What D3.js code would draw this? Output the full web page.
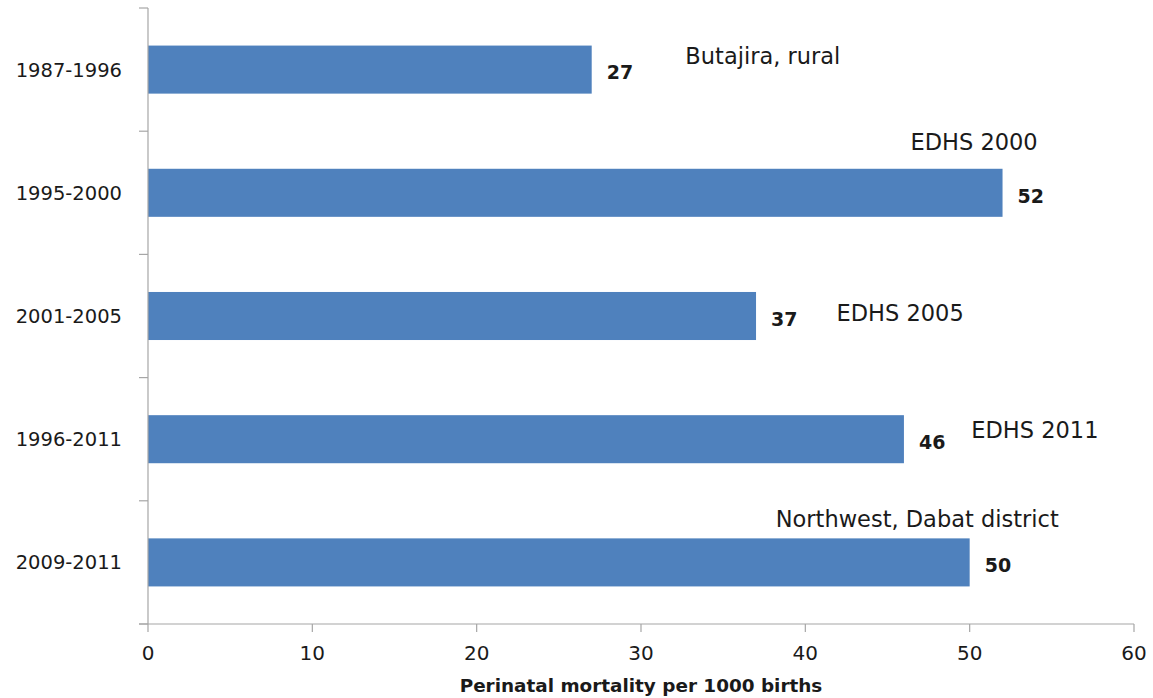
<!DOCTYPE html>
<html>
<head>
<meta charset="utf-8">
<script src="https://cdn.jsdelivr.net/npm/d3@7"></script>
<style>
  body { margin: 0; background: #fff; }
  text { font-family: "DejaVu Sans", sans-serif; fill: #1a1a1a; }
</style>
</head>
<body>
<svg id="chart" width="1153" height="698"></svg>
<script>
(function(){
'use strict';

    // data
    var periods = ['1987-1996', '1995-2000', '2001-2005', '1996-2011', '2009-2011'];
    var mortality = [27, 52, 37, 46, 50];
    var sources = ['Butajira, rural', 'EDHS 2000', 'EDHS 2005', 'EDHS 2011', 'Northwest, Dabat district'];
    var xTicks = [0, 10, 20, 30, 40, 50, 60];

    // where the source notes sit (x in axis units, y offset from bar centre in px)
    var noteX = [32.7, 46.4, 41.9, 50.1, 38.2];
    var noteDy = [-14, -51, -3, -9, -44];

    var margin = {left: 148, right: 19, top: 8, bottom: 74},
        width = 1153 - margin.left - margin.right,
        height = 698 - margin.top - margin.bottom;

    var svg = d3.select('#chart');
    var g = svg.append('g').attr('transform', 'translate(' + margin.left + ',' + margin.top + ')');

    var x = d3.scaleLinear().domain([0, 60]).range([0, width]);
    var y = d3.scaleBand().domain(periods).range([0, height]).paddingInner(0.61).paddingOuter(0.305);

    var axisColor = '#a6a6a6';

    // bars
    g.selectAll('rect.bar').data(periods).enter().append('rect')
        .attr('class', 'bar')
        .attr('x', 0)
        .attr('y', function(d) { return y(d); })
        .attr('width', function(d, i) { return x(mortality[i]); })
        .attr('height', y.bandwidth())
        .attr('fill', '#4f81bd');

    // y axis
    g.append('line')
        .attr('x1', 0).attr('x2', 0).attr('y1', 0).attr('y2', height)
        .attr('stroke', axisColor).attr('stroke-width', 1.2);
    d3.range(periods.length + 1).forEach(function(i) {
        var yy = i * y.step();
        g.append('line')
            .attr('x1', -9).attr('x2', 0).attr('y1', yy).attr('y2', yy)
            .attr('stroke', axisColor).attr('stroke-width', 1.2);
    });
    g.selectAll('text.ylab').data(periods).enter().append('text')
        .attr('class', 'ylab')
        .attr('x', -26)
        .attr('y', function(d) { return y(d) + y.bandwidth() / 2; })
        .attr('dy', '0.36em')
        .attr('text-anchor', 'end')
        .style('font-size', '19.5px')
        .text(function(d) { return d; });

    // x axis
    g.append('line')
        .attr('x1', -9).attr('x2', width).attr('y1', height).attr('y2', height)
        .attr('stroke', axisColor).attr('stroke-width', 1.2);
    g.selectAll('line.xtick').data(xTicks).enter().append('line')
        .attr('class', 'xtick')
        .attr('x1', function(d) { return x(d); }).attr('x2', function(d) { return x(d); })
        .attr('y1', height).attr('y2', height + 8)
        .attr('stroke', axisColor).attr('stroke-width', 1.2);
    g.selectAll('text.xlab').data(xTicks).enter().append('text')
        .attr('class', 'xlab')
        .attr('x', function(d) { return x(d); })
        .attr('y', height + 36)
        .attr('text-anchor', 'middle')
        .style('font-size', '20px')
        .text(function(d) { return d; });

    g.append('text')
        .attr('x', x(30))
        .attr('y', height + 68)
        .attr('text-anchor', 'middle')
        .style('font-size', '18.4px')
        .style('font-weight', 'bold')
        .text('Perinatal mortality per 1000 births');

    // value labels
    g.selectAll('text.value').data(periods).enter().append('text')
        .attr('class', 'value')
        .attr('x', function(d, i) { return x(mortality[i]) + 15; })
        .attr('y', function(d) { return y(d) + y.bandwidth() / 2 + 3; })
        .attr('dy', '0.36em')
        .style('font-size', '19px')
        .style('font-weight', 'bold')
        .text(function(d, i) { return mortality[i]; });

    // source notes
    g.selectAll('text.note').data(periods).enter().append('text')
        .attr('class', 'note')
        .attr('x', function(d, i) { return x(noteX[i]); })
        .attr('y', function(d, i) { return y(d) + y.bandwidth() / 2 + noteDy[i]; })
        .attr('dy', '0.36em')
        .style('font-size', '22.5px')
        .text(function(d, i) { return sources[i]; });

})();
</script>
</body>
</html>
